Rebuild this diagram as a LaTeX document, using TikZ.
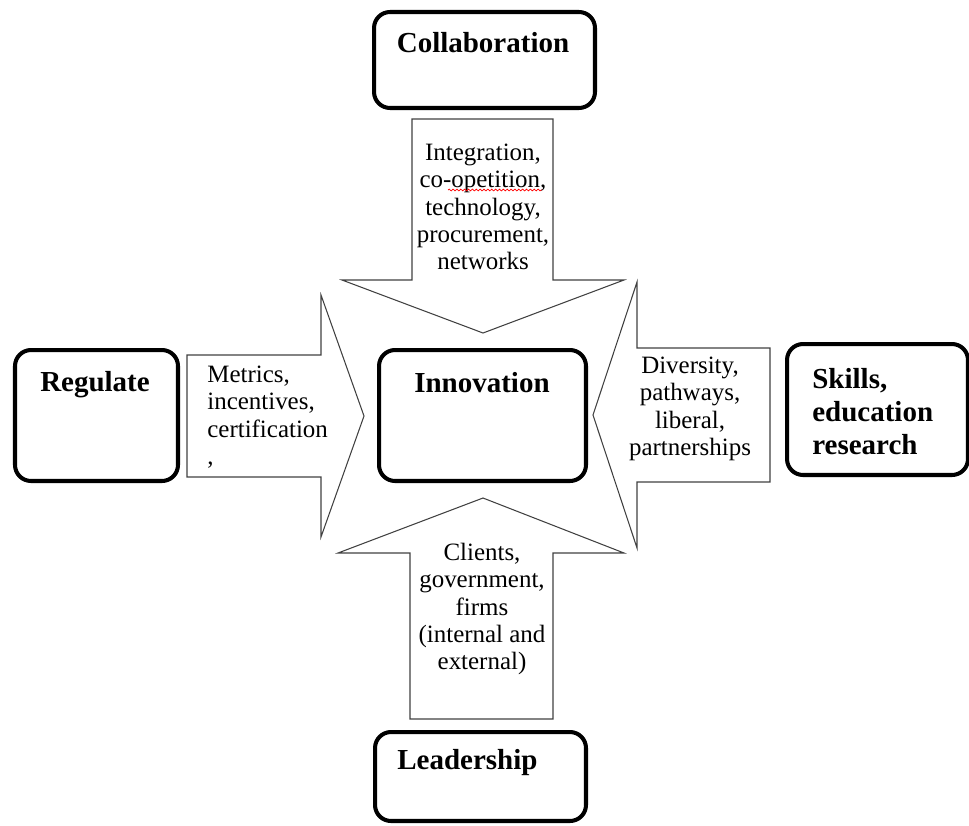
\documentclass[tikz,border=0pt]{standalone}
\usepackage{fontspec}
\setmainfont{Liberation Serif}
\usetikzlibrary{positioning,decorations.pathmorphing}

\begin{document}
\begin{tikzpicture}[x=0.02cm, y=-0.02cm]

\tikzstyle{box}=[rectangle, draw, line width=2.3pt, rounded corners=0.32cm, inner sep=0pt]
\tikzstyle{title}=[font=\fontsize{16.5}{18.8}\selectfont\bfseries, inner sep=0pt]
\tikzstyle{factors}=[font=\fontsize{14.2}{15.6}\selectfont, inner sep=0pt]
\tikzstyle{blockarrow}=[draw=black!75, line width=0.6pt, line join=miter]

\useasboundingbox (0,0) rectangle (969,825);

% the five boxes
\node (collab) [box, minimum width=4.42cm, minimum height=1.92cm] at (484.5,60) {};
\node (regulate) [box, minimum width=3.26cm, minimum height=2.62cm] at (96.5,415.5) {};
\node (innov) [box, minimum width=4.14cm, minimum height=2.62cm] at (482.5,415.5) {};
\node (skills) [box, minimum width=3.62cm, minimum height=2.62cm] at (877.5,409.5) {};
\node (lead) [box, minimum width=4.22cm, minimum height=1.78cm] at (480.5,776.5) {};

\node (collabtext) [title] at (483,43) {Collaboration};
\node (regulatetext) [title] at (95,385) {Regulate};
\node (innovtext) [title] at (482,383) {Innovation};
\node (skillstext) [title, anchor=west, align=left] at (812,412) {Skills,\\ education\\ research};
\node (leadtext) [title, anchor=west] at (397,763) {Leadership};

% block arrows pointing at the centre
\draw [blockarrow] (412,119) -- (553,119) -- (553,280) -- (624,280) -- (483,333)
  -- (342,280) -- (412,280) -- cycle;
\draw [blockarrow] (187,355) -- (321,355) -- (321,295) -- (364,416) -- (321,537)
  -- (321,477) -- (187,477) -- cycle;
\draw [blockarrow] (770,348) -- (637,348) -- (637,282) -- (593,415) -- (637,548)
  -- (637,482) -- (770,482) -- cycle;
\draw [blockarrow] (410,719) -- (553,719) -- (553,553) -- (624,553) -- (483,498)
  -- (338,553) -- (410,553) -- cycle;

\node (collabfactors) [factors, align=center] at (483,207)
  {Integration,\\ co-opetition,\\ technology,\\ procurement,\\ networks};
\draw [red, line width=0.4pt, decorate, decoration={snake, amplitude=0.5pt, segment length=2.2pt}]
  (448,190) -- (542,190);
\node (regfactors) [factors, anchor=west, align=left] at (207,417)
  {Metrics,\\ incentives,\\ certification\\ ,};
\node (skillfactors) [factors, align=center] at (690,409)
  {Diversity,\\ pathways,\\ liberal,\\ partnerships};
\node (leadfactors) [factors, align=center] at (482,609)
  {Clients,\\ government,\\ firms\\ (internal and\\ external)};

\end{tikzpicture}
\end{document}
